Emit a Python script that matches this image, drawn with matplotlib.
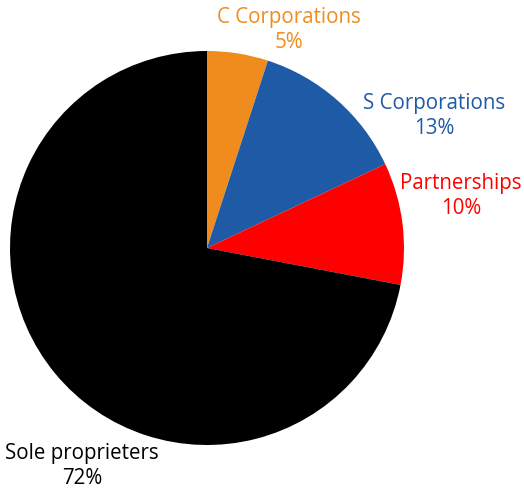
import matplotlib.pyplot as plt

# share of businesses by legal form
labels = ["C Corporations", "S Corporations", "Partnerships", "Sole proprieters"]
shares = [5, 13, 10, 72]
colors = ["#F08C1E", "#1F5AA6", "#FF0000", "#000000"]

# label block centres in pixels (x, y from top)
label_pos = [(289, 30), (434, 116), (461, 196), (82, 466)]

W, H = 524, 491
fig = plt.figure(figsize=(W / 100, H / 100), dpi=100)
plt.rcParams['font.family'] = ['Open Sans', 'DejaVu Sans']

# pie occupies a square box
ax = fig.add_axes([10 / W, 46 / H, 394 / W, 394 / H])
ax.pie(shares, colors=colors, startangle=90, counterclock=False,
       radius=1, wedgeprops=dict(linewidth=0))
ax.set_xlim(-1, 1)
ax.set_ylim(-1, 1)
ax.set_aspect('equal')
ax.axis('off')

for lab, val, col, (px, py) in zip(labels, shares, colors, label_pos):
    fig.text(px / W, 1 - py / H, f"{lab}\n{val}%", color=col, fontsize=14.8,
             ha='center', va='center', multialignment='center', linespacing=1.28)

plt.savefig('out.png', dpi=100)
